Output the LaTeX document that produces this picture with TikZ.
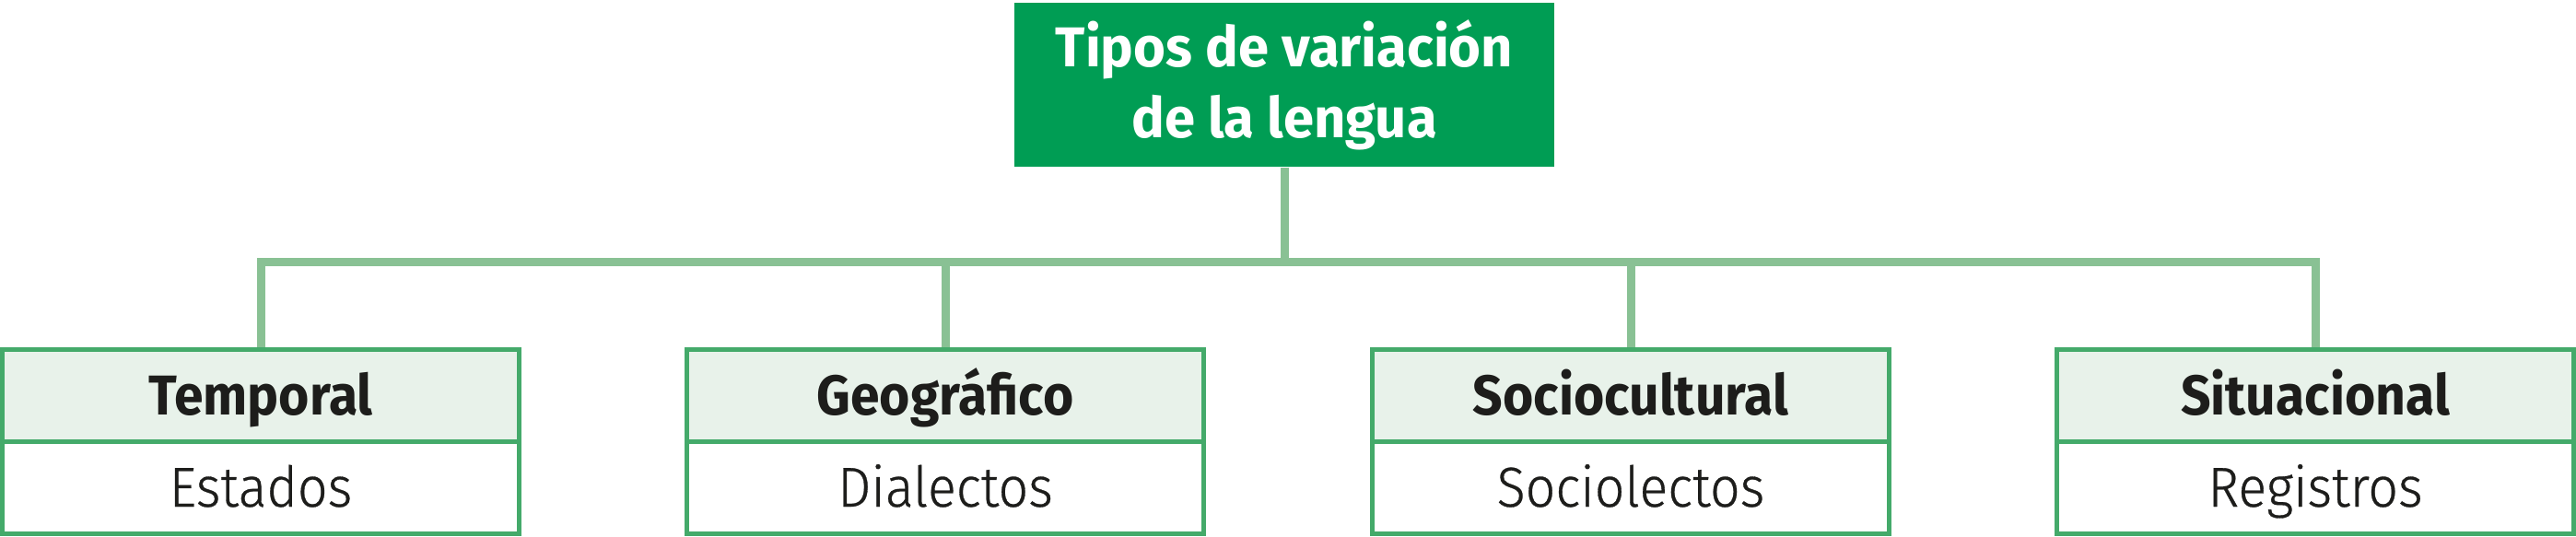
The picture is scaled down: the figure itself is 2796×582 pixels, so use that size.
\documentclass[tikz,border=0pt]{standalone}
\usepackage{fontspec}
\setmainfont{Fira Sans}[FakeStretch=0.92]
\newfontfamily\titlefont{Fira Sans}[FakeStretch=0.98]
\newfontfamily\headfont{Fira Sans}[FakeStretch=0.935]
\newfontfamily\bodyfont{Fira Sans Light}[FakeStretch=0.94, FakeBold=0.5]
\usetikzlibrary{backgrounds}
\definecolor{topgreen}{RGB}{0,157,84}
\definecolor{linkgreen}{RGB}{137,193,148}
\definecolor{boxgreen}{RGB}{68,170,106}
\definecolor{headfill}{RGB}{232,242,234}
\definecolor{ink}{RGB}{29,29,27}
\tikzset{
  topbox/.style={fill=topgreen, minimum width=175.8pt, minimum height=53.4pt, inner sep=0pt,
    text=white, align=center, font=\titlefont\bfseries\fontsize{18.3}{23.1}\selectfont},
  headbox/.style={draw=boxgreen, line width=1.5pt, fill=headfill, minimum width=168.3pt,
    minimum height=30pt, inner sep=0pt, text=ink, text height=12.3pt, text depth=0pt,
    font=\headfont\bfseries\fontsize{18.3}{22}\selectfont},
  bodybox/.style={draw=boxgreen, line width=1.5pt, fill=white, minimum width=168.3pt,
    minimum height=30pt, inner sep=0pt, text=ink, text height=12.3pt, text depth=0pt,
    font=\bodyfont\fontsize{18.3}{22}\selectfont},
  link/.style={draw=linkgreen, line width=2.7pt, line join=miter}
}
\begin{document}
\begin{tikzpicture}[x=0.3pt,y=-0.3pt]
\useasboundingbox (0,0) rectangle (2796,582);
\node[topbox] (top) at (1394,92) {Tipos de variación\\de la lengua};
\node[bodybox] (b1) at (283,529.5) {Estados};
\node[bodybox] (b2) at (1026,529.5) {Dialectos};
\node[bodybox] (b3) at (1770,529.5) {Sociolectos};
\node[bodybox] (b4) at (2513,529.5) {Registros};
\node[headbox] (h1) at (283,429.5) {Temporal};
\node[headbox] (h2) at (1026,429.5) {Geográfico};
\node[headbox] (h3) at (1770,429.5) {Sociocultural};
\node[headbox] (h4) at (2513,429.5) {Situacional};
\coordinate (bus) at (1394,284);
\begin{scope}[on background layer]
\draw[link] (top.south) -- (bus);
\draw[link] (h1.north) -- (h1.north |- bus) -- (h4.north |- bus) -- (h4.north);
\draw[link] (h2.north) -- (h2.north |- bus);
\draw[link] (h3.north) -- (h3.north |- bus);
\end{scope}
\end{tikzpicture}
\end{document}
